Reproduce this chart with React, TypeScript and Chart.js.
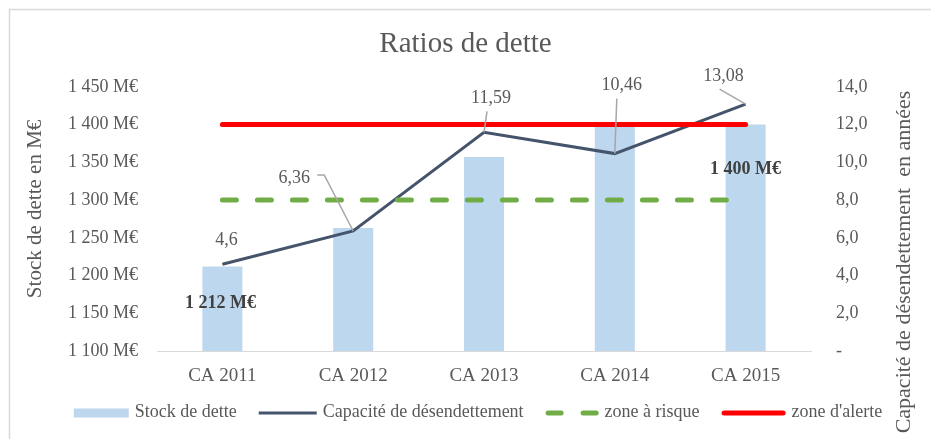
import React, { useEffect, useRef } from "react";
import { Chart, registerables } from "chart.js";

Chart.register(...registerables);

// ---- data ----
const categories = ["CA 2011", "CA 2012", "CA 2013", "CA 2014", "CA 2015"];
const stockDette = [1212, 1263, 1357, 1397, 1400];
const capacite = [4.6, 6.36, 11.59, 10.46, 13.08];
const zoneRisque = [8, 8, 8, 8, 8];
const zoneAlerte = [12, 12, 12, 12, 12];
const stockLabelIndices = [0, 4];
const leftMin = 1100;
const leftMax = 1450;
const leftStep = 50;
const rightMin = 0;
const rightMax = 14;
const rightStep = 2;
const chartTitle = "Ratios de dette";
const leftTitle = "Stock de dette en M€";
const rightTitle = "Capacité de désendettement  en années";
const seriesNames = ["Stock de dette", "Capacité de désendettement", "zone à risque", "zone d'alerte"];

// ---- styles ----
const FONT = "'Liberation Serif', 'Times New Roman', serif";
const TEXT = "#595959";
const BAR_COLOR = "#BDD7EE";
const LINE_COLOR = "#44546A";
const GREEN = "#70AD47";
const RED = "#FF0000";

// label placement offsets relative to points (px)
const capLabelStyle: { dx: number; dy: number; leader: number[][] }[] = [
  { dx: 4, dy: -24, leader: [] },
  { dx: -59, dy: -53, leader: [[-36, -56], [-29, -56]] },
  { dx: 7, dy: -34, leader: [[3, -21]] },
  { dx: 7, dy: -68, leader: [[2, -55]] },
  { dx: -22, dy: -28, leader: [[-26, -15]] },
];
const stockLabelStyle: Record<number, { dx: number; dy: number }> = {
  0: { dx: -2, dy: 37 },
  4: { dx: 0, dy: 45 },
};

const fmtThousands = (v: number) => {
  const s = Math.round(v).toString();
  return s.replace(/\B(?=(\d{3})+(?!\d))/g, " ");
};
const fmtDec = (v: number) => String(v).replace(".", ",");

const decorPlugin = {
  id: "decor",
  beforeDraw(chart: any) {
    const ctx = chart.ctx;
    ctx.save();
    ctx.fillStyle = "#ffffff";
    ctx.fillRect(0, 0, chart.width, chart.height);
    ctx.strokeStyle = "#D9D9D9";
    ctx.lineWidth = 1.5;
    ctx.strokeRect(9.5, 9.5, chart.width + 20, chart.height + 20);
    ctx.restore();
  },
  afterDatasetsDraw(chart: any) {
    const ctx = chart.ctx;
    ctx.save();
    const lineMeta = chart.getDatasetMeta(1);
    ctx.font = `18px ${FONT}`;
    ctx.textAlign = "center";
    ctx.textBaseline = "middle";
    lineMeta.data.forEach((pt: any, i: number) => {
      const st = capLabelStyle[i];
      if (st.leader.length) {
        ctx.strokeStyle = "#A6A6A6";
        ctx.lineWidth = 1.5;
        ctx.beginPath();
        ctx.moveTo(pt.x + st.leader[0][0], pt.y + st.leader[0][1]);
        for (let k = 1; k < st.leader.length; k++) ctx.lineTo(pt.x + st.leader[k][0], pt.y + st.leader[k][1]);
        ctx.lineTo(pt.x, pt.y);
        ctx.stroke();
      }
      ctx.fillStyle = TEXT;
      ctx.fillText(fmtDec(capacite[i]), pt.x + st.dx, pt.y + st.dy);
    });
    const barMeta = chart.getDatasetMeta(0);
    ctx.font = `bold 18px ${FONT}`;
    ctx.fillStyle = "#404040";
    stockLabelIndices.forEach((i) => {
      const b = barMeta.data[i];
      const st = stockLabelStyle[i] || { dx: 0, dy: 40 };
      ctx.fillText(fmtThousands(stockDette[i]) + " M€", b.x + st.dx, b.y + st.dy);
    });
    ctx.restore();
  },
  afterDraw(chart: any) {
    const ctx = chart.ctx;
    const area = chart.chartArea;
    ctx.save();
    ctx.fillStyle = TEXT;
    ctx.textAlign = "center";
    ctx.textBaseline = "middle";
    ctx.font = `21px ${FONT}`;
    ctx.save();
    ctx.translate(35, (area.top + area.bottom) / 2 - 10);
    ctx.rotate(-Math.PI / 2);
    ctx.fillText(leftTitle, 0, 0);
    ctx.restore();
    ctx.font = `22px ${FONT}`;
    ctx.save();
    ctx.translate(904, 262);
    ctx.rotate(-Math.PI / 2);
    ctx.fillText(rightTitle, 0, 0);
    ctx.restore();

    // legend
    ctx.font = `18px ${FONT}`;
    ctx.textAlign = "left";
    const symW = [55, 58, 53, 64];
    const gapSymText = 6;
    const gapItem = 22;
    const textW = seriesNames.map((n) => ctx.measureText(n).width);
    let total = 0;
    seriesNames.forEach((_, i) => {
      total += symW[i] + gapSymText + textW[i];
      if (i < seriesNames.length - 1) total += gapItem;
    });
    let x = 478 - total / 2;
    const y = 413;
    seriesNames.forEach((name, i) => {
      const w = symW[i];
      if (i === 0) {
        ctx.fillStyle = BAR_COLOR;
        ctx.fillRect(x, y - 4.5, w, 9);
      } else {
        ctx.beginPath();
        ctx.lineCap = i === 1 ? "butt" : "round";
        if (i === 1) {
          ctx.strokeStyle = LINE_COLOR;
          ctx.lineWidth = 3;
          ctx.setLineDash([]);
          ctx.moveTo(x, y);
          ctx.lineTo(x + w, y);
        } else if (i === 2) {
          ctx.strokeStyle = GREEN;
          ctx.lineWidth = 5;
          ctx.setLineDash([13, 22]);
          ctx.moveTo(x + 2.5, y);
          ctx.lineTo(x + w - 2.5, y);
        } else {
          ctx.strokeStyle = RED;
          ctx.lineWidth = 5;
          ctx.setLineDash([]);
          ctx.moveTo(x + 2.5, y);
          ctx.lineTo(x + w - 2.5, y);
        }
        ctx.stroke();
        ctx.setLineDash([]);
      }
      ctx.fillStyle = TEXT;
      ctx.fillText(name, x + w + gapSymText, y - 1);
      x += w + gapSymText + textW[i] + gapItem;
    });
    ctx.restore();
  },
};

export default function App() {
  const ref = useRef<HTMLCanvasElement | null>(null);
  useEffect(() => {
    if (!ref.current) return;
    const chart = new Chart(ref.current, {
      type: "bar",
      data: {
        labels: categories,
        datasets: [
          {
            type: "bar",
            label: seriesNames[0],
            data: stockDette,
            yAxisID: "y",
            backgroundColor: BAR_COLOR,
            barPercentage: 0.306,
            categoryPercentage: 1,
            order: 4,
          },
          {
            type: "line",
            label: seriesNames[1],
            data: capacite,
            yAxisID: "y1",
            borderColor: LINE_COLOR,
            borderWidth: 3,
            pointRadius: 0,
            tension: 0,
            fill: false,
            order: 3,
          },
          {
            type: "line",
            label: seriesNames[2],
            data: zoneRisque,
            yAxisID: "y1",
            borderColor: GREEN,
            borderWidth: 5,
            borderDash: [14, 21],
            borderCapStyle: "round",
            pointRadius: 0,
            fill: false,
            order: 2,
          },
          {
            type: "line",
            label: seriesNames[3],
            data: zoneAlerte,
            yAxisID: "y1",
            borderColor: RED,
            borderWidth: 5,
            borderCapStyle: "round",
            pointRadius: 0,
            fill: false,
            order: 1,
          },
        ] as any,
      },
      options: {
        responsive: false,
        animation: false,
        devicePixelRatio: 1,
        layout: { padding: { top: 0, left: 0, right: 0, bottom: 0 } },
        plugins: {
          legend: { display: false },
          tooltip: { enabled: false },
          title: {
            display: true,
            text: chartTitle,
            color: TEXT,
            font: { family: FONT, size: 29, weight: "normal" as any },
            padding: { top: 27, bottom: 25 },
          },
        },
        scales: {
          x: {
            grid: { display: false, drawTicks: false },
            border: { display: true, color: "#D9D9D9", width: 1 },
            ticks: { color: TEXT, font: { family: FONT, size: 19 }, padding: 14 },
            afterFit: (s: any) => {
              s.height = 88;
            },
          },
          y: {
            position: "left",
            min: leftMin,
            max: leftMax,
            grid: { display: false, drawTicks: false },
            border: { display: false },
            ticks: {
              stepSize: leftStep,
              color: TEXT,
              font: { family: FONT, size: 18 },
              padding: 19,
              callback: (v: any) => fmtThousands(Number(v)) + " M€",
            },
            afterFit: (s: any) => {
              s.width = 157;
            },
          },
          y1: {
            position: "right",
            min: rightMin,
            max: rightMax,
            grid: { display: false, drawTicks: false },
            border: { display: false },
            ticks: {
              stepSize: rightStep,
              color: TEXT,
              font: { family: FONT, size: 18 },
              padding: 25,
              callback: (v: any) => (Number(v) === 0 ? "-" : Number(v).toFixed(1).replace(".", ",")),
            },
            afterFit: (s: any) => {
              s.width = 120;
            },
          },
        },
      } as any,
      plugins: [decorPlugin],
    });
    return () => chart.destroy();
  }, []);
  return (
    <div style={{ position: "fixed", left: 0, top: 0, width: 931, height: 439, background: "#fff" }}>
      <canvas ref={ref} width={931} height={439} style={{ display: "block", width: 931, height: 439 }} />
    </div>
  );
}
